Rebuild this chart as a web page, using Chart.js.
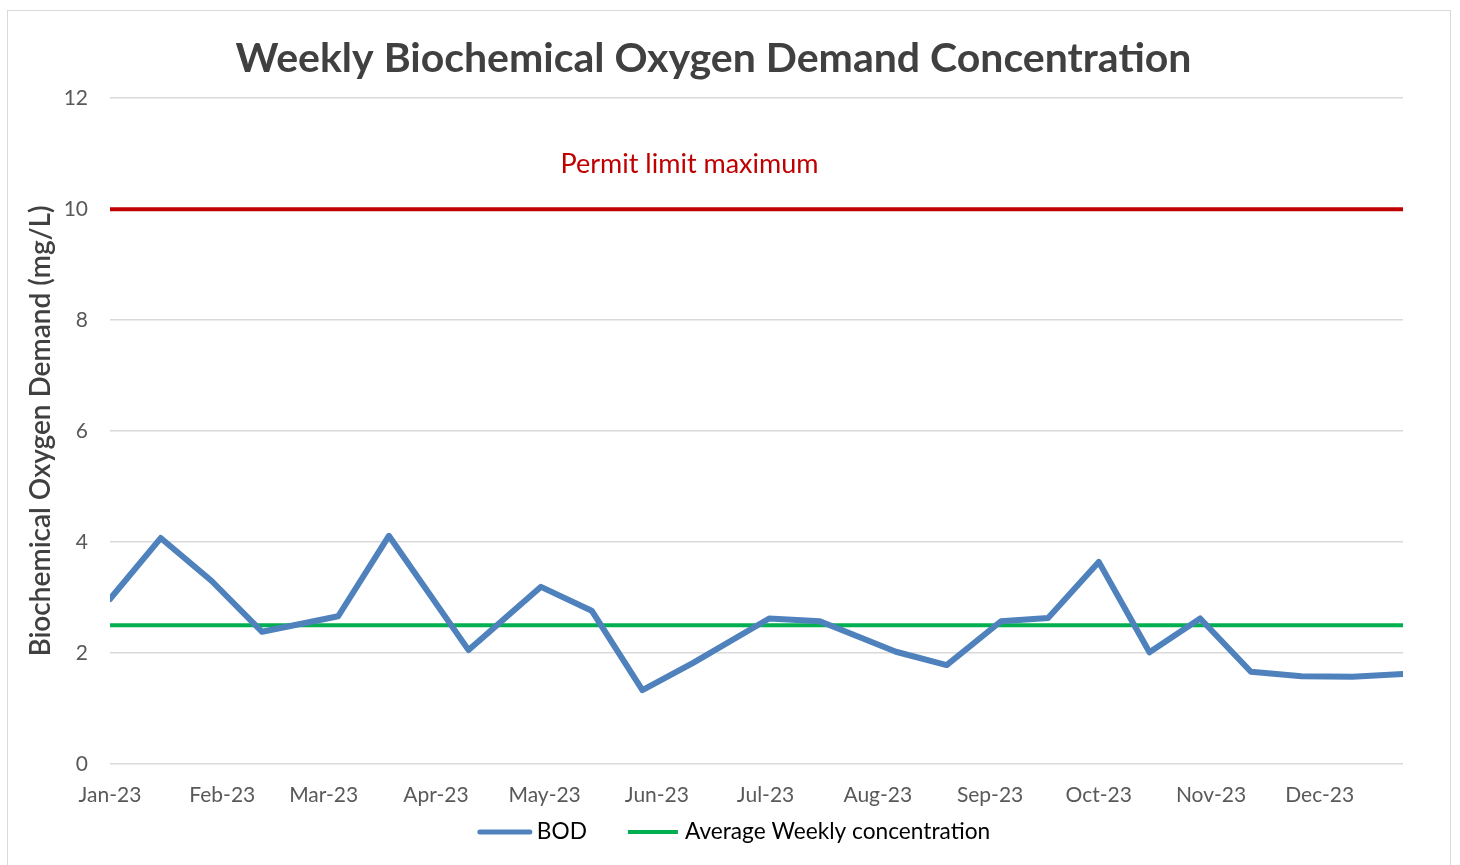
<!DOCTYPE html>
<html>
<head>
<meta charset="utf-8">
<script src="https://cdn.jsdelivr.net/npm/chart.js@4/dist/chart.umd.min.js"></script>
<style>
  html, body { margin: 0; padding: 0; background: #fff; }
  #wrap { position: relative; width: 1460px; height: 865px; }
  #frame { position: absolute; left: 7px; top: 10px; width: 1444px; height: 870px; border: 1.5px solid #d9d9d9; box-sizing: border-box; }
  canvas { position: absolute; left: 0; top: 0; }
</style>
</head>
<body>
<div id="wrap"><div id="frame"></div><canvas id="bodChart" width="1460" height="865"></canvas></div>
<script>
/* BOD weekly concentration chart */
const sampleDates = ['2023-01-01','2023-01-15','2023-01-29','2023-02-12','2023-03-05','2023-03-19','2023-04-10',
  '2023-04-30','2023-05-14','2023-05-28','2023-06-11','2023-07-02','2023-07-16','2023-08-06','2023-08-20',
  '2023-09-04','2023-09-17','2023-10-01','2023-10-15','2023-10-29','2023-11-12','2023-11-26','2023-12-10','2023-12-24'];
const bodValues = [2.97, 4.07, 3.30, 2.38, 2.66, 4.11, 2.05, 3.19, 2.76, 1.33, 1.82, 2.62,
  2.57, 2.02, 1.78, 2.57, 2.63, 3.64, 2.01, 2.62, 1.66, 1.58, 1.57, 1.62];
const averageWeekly = 2.5;
const permitLimit = 10;
const monthStarts = ['2023-01-01','2023-02-01','2023-03-01','2023-04-01','2023-05-01','2023-06-01',
  '2023-07-01','2023-08-01','2023-09-01','2023-10-01','2023-11-01','2023-12-01'];
const monthLabels = ['Jan-23','Feb-23','Mar-23','Apr-23','May-23','Jun-23','Jul-23','Aug-23','Sep-23','Oct-23','Nov-23','Dec-23'];
const yTicks = [0, 2, 4, 6, 8, 10, 12];

const FONT = 'Lato, "Open Sans", sans-serif';
const dayOf = d => (Date.parse(d + 'T00:00:00Z') - Date.parse(sampleDates[0] + 'T00:00:00Z')) / 86400000;
const firstDay = dayOf(sampleDates[0]);
const lastDay = dayOf(sampleDates[sampleDates.length - 1]);

// red text above the permit line
const permitLabel = {
    id: 'permitLabel',
    afterDatasetsDraw(chart) {
        const { ctx, scales: { x, y } } = chart;
        ctx.save();
        ctx.font = '27px ' + FONT;
        ctx.fillStyle = '#c00000';
        ctx.textAlign = 'center';
        ctx.textBaseline = 'middle';
        ctx.fillText('Permit limit maximum', x.getPixelForValue(160), y.getPixelForValue(permitLimit + 0.8));
        ctx.restore();
    }
};

// simple line-sample legend, only BOD and average
const lineLegend = {
    id: 'lineLegend',
    afterDraw(chart) {
        const ctx = chart.ctx;
        const items = chart.data.datasets.filter(d => d.inLegend);
        const sample = 54, gap = 5, between = 39, cy = 832;
        ctx.save();
        ctx.font = '22.7px ' + FONT;
        const widths = items.map(d => sample + gap + ctx.measureText(d.label).width);
        let x = chart.width / 2 + 4 - (widths.reduce((a, b) => a + b, 0) + between * (items.length - 1)) / 2;
        items.forEach((d, i) => {
            ctx.strokeStyle = d.borderColor;
            ctx.lineWidth = Math.min(d.borderWidth, 5);
            ctx.lineCap = d.borderCapStyle || 'butt';
            ctx.beginPath(); ctx.moveTo(x + 2, cy); ctx.lineTo(x + sample - 2, cy); ctx.stroke();
            ctx.fillStyle = '#000';
            ctx.textBaseline = 'middle';
            ctx.fillText(d.label, x + sample + gap, cy);
            x += widths[i] + between;
        });
        ctx.restore();
    }
};

new Chart(document.getElementById('bodChart'), {
    type: 'line',
    data: {
        datasets: [
            { label: 'BOD', inLegend: true, data: sampleDates.map((d, i) => ({ x: dayOf(d), y: bodValues[i] })),
              borderColor: '#4f81bd', borderWidth: 6, pointRadius: 0,
              borderCapStyle: 'round', borderJoinStyle: 'round', order: 1 },
            { label: 'Average Weekly concentration', inLegend: true,
              data: [{ x: firstDay, y: averageWeekly }, { x: lastDay, y: averageWeekly }],
              borderColor: '#00b050', borderWidth: 4, pointRadius: 0, order: 2 },
            { label: 'Permit limit', data: [{ x: firstDay, y: permitLimit }, { x: lastDay, y: permitLimit }],
              borderColor: '#c00000', borderWidth: 4, pointRadius: 0, order: 3 }
        ]
    },
    options: {
        responsive: false, animation: false,
        layout: { padding: { left: 24, right: 57, top: 0, bottom: 38 } },
        scales: {
            x: { type: 'linear', min: firstDay, max: lastDay,
                 afterBuildTicks: s => { s.ticks = monthStarts.map(d => ({ value: dayOf(d) })); },
                 ticks: { autoSkip: false, maxRotation: 0, padding: 19, color: '#595959', font: { family: FONT, size: 21 },
                          callback: (v) => monthLabels[monthStarts.findIndex(d => dayOf(d) === v)] },
                 grid: { display: false, drawTicks: false }, border: { display: false } },
            y: { min: 0, max: 12,
                 afterBuildTicks: s => { s.ticks = yTicks.map(v => ({ value: v })); },
                 afterFit: s => { s.width = 86; },
                 ticks: { padding: 22, color: '#595959', font: { family: FONT, size: 21 } },
                 grid: { color: '#d9d9d9', lineWidth: 1.5, drawTicks: false }, border: { display: false },
                 title: { display: true, text: 'Biochemical Oxygen Demand (mg/L)', color: '#404040', padding: 0,
                          font: { family: FONT, size: 28, weight: '600' } } }
        },
        plugins: {
            title: { display: true, text: 'Weekly Biochemical Oxygen Demand Concentration', color: '#404040',
                     font: { family: FONT, size: 41, weight: 'bold' }, padding: { top: 34, bottom: 15 } },
            legend: { display: false },
            tooltip: { enabled: false }
        }
    },
    plugins: [permitLabel, lineLegend]
});
</script>
</body>
</html>
